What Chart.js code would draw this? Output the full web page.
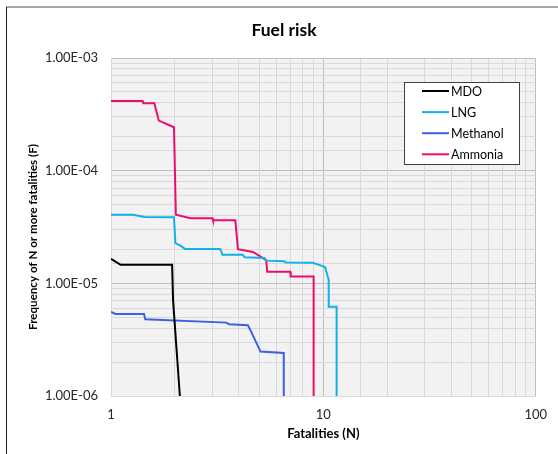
<!DOCTYPE html>
<html>
<head>
<meta charset="utf-8">
<script src="https://cdn.jsdelivr.net/npm/chart.js@4/dist/chart.umd.min.js"></script>
<style>
  html, body { margin: 0; padding: 0; background: #ffffff; }
  #wrap { position: relative; width: 558px; height: 454px; }
</style>
</head>
<body>
<div id="wrap"><canvas id="c" width="558" height="454"></canvas></div>
<script>
// ---- Data ----
const seriesNames = ['MDO', 'LNG', 'Methanol', 'Ammonia'];

const mdoN = [1, 1.11, 1.94, 1.96, 2.11];
const mdoF = [1.65e-5, 1.46e-5, 1.46e-5, 7.1e-6, 1.0e-6];

const lngN = [1, 1.27, 1.44, 1.98, 2.01, 2.12, 2.23, 3.27, 3.35, 4.18, 4.26, 5.28, 5.38, 6.56, 6.63, 8.91, 9.86, 10.2, 10.6, 10.6, 11.55, 11.55];
const lngF = [4.07e-5, 4.07e-5, 3.88e-5, 3.86e-5, 2.27e-5, 2.16e-5, 2.02e-5, 2.02e-5, 1.79e-5, 1.79e-5, 1.70e-5, 1.68e-5, 1.59e-5, 1.57e-5, 1.53e-5, 1.52e-5, 1.43e-5, 1.39e-5, 1.07e-5, 6.2e-6, 6.2e-6, 1.0e-6];

const methanolN = [1, 1.05, 1.43, 1.45, 3.49, 3.60, 4.41, 4.53, 5.06, 6.51, 6.51];
const methanolF = [5.57e-6, 5.35e-6, 5.35e-6, 4.80e-6, 4.48e-6, 4.34e-6, 4.25e-6, 3.86e-6, 2.48e-6, 2.41e-6, 1.0e-6];

const ammoniaN = [1, 1.41, 1.42, 1.60, 1.68, 1.98, 2.02, 2.37, 3.0, 3.02, 3.85, 3.96, 4.66, 5.38, 5.44, 6.98, 7.02, 9.0, 9.0];
const ammoniaF = [4.15e-4, 4.15e-4, 3.96e-4, 3.96e-4, 2.78e-4, 2.43e-4, 4.07e-5, 3.78e-5, 3.78e-5, 3.63e-5, 3.63e-5, 2.01e-5, 1.90e-5, 1.61e-5, 1.27e-5, 1.27e-5, 1.15e-5, 1.15e-5, 1.0e-6];

const xTickValues = [1, 10, 100];
const xTickLabels = ['1', '10', '100'];
const yTickValues = [1e-6, 1e-5, 1e-4, 1e-3];
const yTickLabels = ['1.00E-06', '1.00E-05', '1.00E-04', '1.00E-03'];

const chartTitle = 'Fuel risk';
const xTitle = 'Fatalities (N)';
const yTitle = 'Frequency of N or more fatalities (F)';

// ---- Styles ----
const colors = ['#000000', '#12b0ea', '#3f5fe3', '#ec0c6c'];
const FONT = 'Lato, "Noto Sans", sans-serif';

function pts(xs, ys) { return xs.map((x, i) => ({ x: x, y: ys[i] })); }
function labelFor(v, vals, labels) {
  for (let i = 0; i < vals.length; i++) {
    if (Math.abs(v - vals[i]) / vals[i] < 1e-6) return labels[i];
  }
  return '';
}
function isDecade(v) {
  const l = Math.log10(v);
  return Math.abs(l - Math.round(l)) < 1e-6;
}

const dataSets = [
  [mdoN, mdoF], [lngN, lngF], [methanolN, methanolF], [ammoniaN, ammoniaF]
].map((d, i) => ({
  label: seriesNames[i],
  data: pts(d[0], d[1]),
  borderColor: colors[i],
  backgroundColor: colors[i],
  borderWidth: 2,
  pointRadius: 0,
  tension: 0,
  fill: false
}));

const decorPlugin = {
  id: 'decor',
  beforeDraw(chart) {
    const ctx = chart.ctx, a = chart.chartArea;
    ctx.save();
    ctx.fillStyle = '#f2f2f2';
    ctx.fillRect(a.left, a.top, a.right - a.left, a.bottom - a.top);
    ctx.restore();
  },
  afterDraw(chart) {
    const ctx = chart.ctx, a = chart.chartArea;
    ctx.save();
    // outer frame
    ctx.strokeStyle = '#a6a6a6';
    ctx.lineWidth = 2;
    ctx.beginPath(); ctx.moveTo(6, 7); ctx.lineTo(558, 7); ctx.stroke();
    ctx.strokeStyle = '#1a1a1a';
    ctx.lineWidth = 1;
    ctx.beginPath(); ctx.moveTo(6.5, 7); ctx.lineTo(6.5, 454); ctx.stroke();

    // chart title
    ctx.fillStyle = '#000000';
    ctx.textAlign = 'center';
    ctx.textBaseline = 'middle';
    ctx.font = 'bold 17.5px ' + FONT;
    ctx.fillText(chartTitle, 284, 30);

    // axis titles
    ctx.font = 'bold 13px ' + FONT;
    ctx.fillText(xTitle, (a.left + a.right) / 2, 434);
    ctx.font = 'bold 11.6px ' + FONT;
    ctx.save();
    ctx.translate(33, 237);
    ctx.rotate(-Math.PI / 2);
    ctx.fillText(yTitle, 0, 0);
    ctx.restore();

    // legend
    const bx = 404.5, by = 82.5, bw = 115, bh = 82;
    ctx.fillStyle = '#ffffff';
    ctx.fillRect(bx, by, bw, bh);
    ctx.strokeStyle = '#404040';
    ctx.lineWidth = 1;
    ctx.strokeRect(bx, by, bw, bh);
    ctx.font = '12.5px ' + FONT;
    ctx.textAlign = 'left';
    chart.data.datasets.forEach((ds, i) => {
      const y = 91 + i * 21.1;
      ctx.strokeStyle = ds.borderColor;
      ctx.lineWidth = 2;
      ctx.beginPath(); ctx.moveTo(422, y); ctx.lineTo(449, y); ctx.stroke();
      ctx.fillStyle = '#000000';
      ctx.fillText(ds.label, 451, y + 0.5);
    });
    ctx.restore();
  }
};

new Chart(document.getElementById('c'), {
  type: 'line',
  data: { datasets: dataSets },
  options: {
    responsive: false,
    animation: false,
    devicePixelRatio: 1,
    layout: { padding: { top: 58, left: 0, right: 21, bottom: 0 } },
    plugins: { legend: { display: false }, title: { display: false }, tooltip: { enabled: false } },
    scales: {
      x: {
        type: 'logarithmic',
        min: 1, max: 100,
        afterFit(s) { s.height = 58; },
        border: { color: '#d9d9d9', width: 1 },
        grid: {
          drawTicks: false,
          color: (c) => (c.tick && isDecade(c.tick.value)) ? '#bfbfbf' : '#d9d9d9',
          lineWidth: 1
        },
        ticks: {
          autoSkip: false,
          maxRotation: 0,
          padding: 11,
          color: '#262626',
          font: { family: FONT, size: 13 },
          callback: (v) => labelFor(v, xTickValues, xTickLabels)
        }
      },
      y: {
        type: 'logarithmic',
        min: 1e-6, max: 1e-3,
        afterFit(s) { s.width = 111; },
        border: { color: '#d9d9d9', width: 1 },
        grid: {
          drawTicks: false,
          color: (c) => (c.tick && isDecade(c.tick.value)) ? '#bfbfbf' : '#d9d9d9',
          lineWidth: 1
        },
        ticks: {
          autoSkip: false,
          padding: 13,
          color: '#262626',
          font: { family: FONT, size: 13 },
          callback: (v) => labelFor(v, yTickValues, yTickLabels)
        }
      }
    }
  },
  plugins: [decorPlugin]
});
</script>
</body>
</html>
